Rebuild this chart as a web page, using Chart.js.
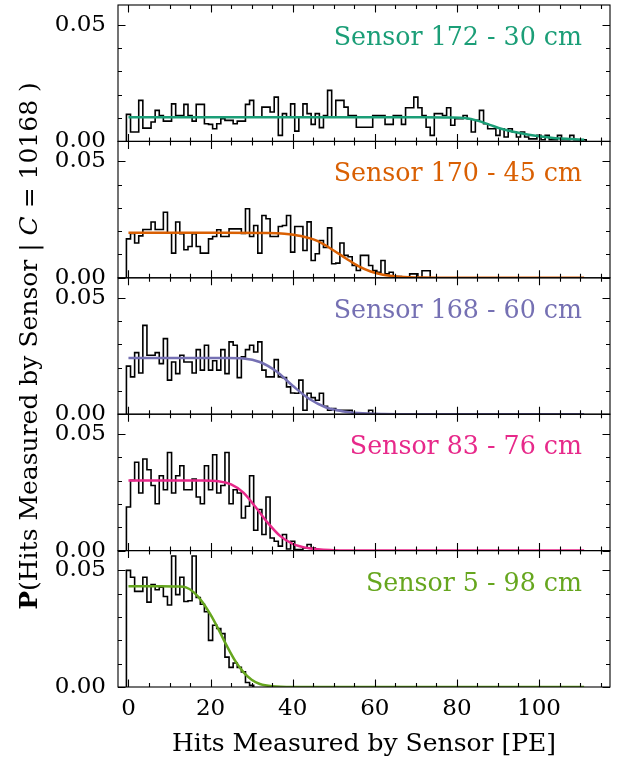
<!DOCTYPE html>
<html>
<head>
<meta charset="utf-8">
<script src="https://cdn.jsdelivr.net/npm/chart.js@4.4.1/dist/chart.umd.min.js"></script>
<style>
  html, body { margin: 0; padding: 0; background: #fff; }
  #wrap { position: relative; width: 630px; height: 760px; }
</style>
</head>
<body>
<div id="wrap"><canvas id="chart" width="630" height="760"></canvas></div>
<script>
// Axis ticks
const xTicks = [0, 20, 40, 60, 80, 100];
const yTicks = [0, 0.05];

// Panel labels and colours (top to bottom)
const sensorLabels = ['Sensor 172 - 30 cm', 'Sensor 170 - 45 cm', 'Sensor 168 - 60 cm', 'Sensor 83 - 76 cm', 'Sensor 5 - 98 cm'];
const sensorColors = ['#1b9e77', '#d95f02', '#7570b3', '#e7298a', '#66a61e'];

// Histogram bins: one bin per PE, first bin centred on 0
const binWidth = 1;

// Measured probability per bin
const hits172 = [
  0.0116, 0.004, 0.004, 0.0176, 0.0057, 0.0057, 0.0083, 0.0133, 0.0111, 0.0087,
  0.0087, 0.0161, 0.0111, 0.0111, 0.0159, 0.0111, 0.0087, 0.0159, 0.0159, 0.0076,
  0.0073, 0.0054, 0.0076, 0.0097, 0.009, 0.009, 0.0076, 0.0087, 0.0087, 0.0159,
  0.0176, 0.0104, 0.0104, 0.0147, 0.0147, 0.0126, 0.019, 0.0026, 0.0119, 0.0104,
  0.0161, 0.0044, 0.0104, 0.0161, 0.0119, 0.0073, 0.0119, 0.0059, 0.0111, 0.0219,
  0.0104, 0.0176, 0.0176, 0.0147, 0.0111, 0.0111, 0.0061, 0.0061, 0.0061, 0.0061,
  0.0111, 0.0111, 0.0111, 0.0073, 0.0073, 0.0111, 0.0111, 0.0073, 0.0144, 0.0144,
  0.019, 0.0144, 0.0111, 0.0061, 0.0026, 0.0119, 0.0119, 0.0111, 0.0144, 0.0069,
  0.0097, 0.0097, 0.0111, 0.0097, 0.004, 0.009, 0.0133, 0.0076, 0.0054, 0.0054,
  0.0026, 0.0054, 0.0019, 0.0054, 0.004, 0.0019, 0.004, 0.0019, 0.0011, 0.0011,
  0.0026, 0.0007, 0.0026, 0.0007, 0.0007, 0.0026, 0.0007, 0.0007, 0.0026, 0.0007,
  0.0007, 0.0007
];
const hits170 = [
  0.0167, 0.019, 0.0149, 0.018, 0.0207, 0.0207, 0.0239, 0.0207, 0.0207, 0.0281,
  0.0191, 0.0106, 0.0239, 0.0189, 0.012, 0.0134, 0.0189, 0.0134, 0.0106, 0.0106,
  0.0167, 0.0177, 0.0206, 0.0177, 0.0177, 0.021, 0.021, 0.021, 0.019, 0.0296,
  0.0177, 0.0224, 0.0106, 0.0267, 0.0253, 0.0177, 0.0177, 0.022, 0.0224, 0.0267,
  0.011, 0.022, 0.022, 0.0117, 0.024, 0.0074, 0.0103, 0.016, 0.013, 0.0214,
  0.006, 0.0063, 0.0149, 0.0096, 0.009, 0.0053, 0.0031, 0.0096, 0.0096, 0.0053,
  0.0031, 0.0024, 0.0074, 0.0017, 0.0024, 0.0005, 0.0005, 0, 0, 0.0017,
  0.0017, 0, 0.003, 0.003
];
const hits168 = [
  0.0206, 0.016, 0.0264, 0.0177, 0.0381, 0.0253, 0.0253, 0.0264, 0.0217, 0.0324,
  0.0146, 0.0224, 0.0174, 0.0253, 0.0224, 0.0224, 0.0177, 0.0277, 0.0189, 0.0296,
  0.0189, 0.0229, 0.0189, 0.0277, 0.0174, 0.031, 0.0296, 0.0157, 0.0246, 0.0277,
  0.0296, 0.0267, 0.031, 0.0189, 0.016, 0.016, 0.0234, 0.016, 0.0157, 0.0117,
  0.0091, 0.009, 0.0146, 0.0017, 0.009, 0.0071, 0.006, 0.009, 0.0034, 0.0017,
  0.0024, 0.0017, 0.0017, 0.0017, 0.0017, 0, 0, 0, 0, 0.0017
];
const hits83 = [
  0.0187, 0.0301, 0.0379, 0.0247, 0.0393, 0.0347, 0.0279, 0.0201, 0.0321, 0.0261,
  0.0421, 0.0247, 0.0321, 0.0364, 0.0261, 0.0261, 0.0307, 0.023, 0.0201, 0.0364,
  0.0261, 0.0411, 0.0247, 0.0279, 0.0421, 0.0201, 0.0261, 0.0247, 0.014, 0.019,
  0.0321, 0.0087, 0.0176, 0.0069, 0.023, 0.0054, 0.004, 0.0019, 0.0069, 0.0007,
  0.004, 0.0004, 0.0004, 0.0011, 0.0026, 0.0011
];
const hits5 = [
  0.05, 0.0471, 0.041, 0.041, 0.0471, 0.0364, 0.0439, 0.0417, 0.0428, 0.0388,
  0.0352, 0.0562, 0.0396, 0.0471, 0.0367, 0.037, 0.0562, 0.0384, 0.0355, 0.0323,
  0.02, 0.0265, 0.0251, 0.0229, 0.0128, 0.0084, 0.0103, 0.0084, 0.0065, 0.0019,
  0.0007
];

// Fitted curves
const fitX172 = [0, 20, 40, 60, 72, 78, 82, 85, 88, 91, 95, 100, 104, 108, 111];
const fitY172 = [0.0104, 0.0104, 0.0104, 0.0104, 0.0104, 0.0103, 0.0100, 0.0089, 0.0071, 0.0053, 0.0037, 0.0022, 0.0014, 0.0010, 0.0007];
const fitX170 = [0, 20, 34, 38, 42, 46, 50, 53, 56, 59, 62, 66, 72, 80, 111];
const fitY170 = [0.0193, 0.0193, 0.0192, 0.0189, 0.0179, 0.0158, 0.0117, 0.0083, 0.0050, 0.0027, 0.0013, 0.0005, 0.0001, 0, 0];
const fitX168 = [0, 20, 24, 28, 32, 36, 40, 44, 48, 52, 56, 62, 70, 111];
const fitY168 = [0.0241, 0.0241, 0.0241, 0.0239, 0.0224, 0.0184, 0.0122, 0.0066, 0.0030, 0.0013, 0.0005, 0.0001, 0, 0];
const fitX83 = [0, 12, 18, 22, 25, 28, 31, 34, 37, 40, 44, 50, 58, 111];
const fitY83 = [0.0301, 0.0301, 0.0301, 0.0297, 0.0284, 0.0249, 0.0186, 0.0118, 0.0062, 0.0029, 0.0010, 0.0002, 0, 0];
const fitX5 = [0, 8, 12, 14, 16, 18, 20, 22, 24, 26, 28, 30, 32, 35, 40, 111];
const fitY5 = [0.0432, 0.0432, 0.0431, 0.0427, 0.0405, 0.0365, 0.0310, 0.0245, 0.0175, 0.0112, 0.0064, 0.0031, 0.0013, 0.0003, 0, 0];

const hitSets = [hits172, hits170, hits168, hits83, hits5];
const fitSets = [[fitX172, fitY172], [fitX170, fitY170], [fitX168, fitY168], [fitX83, fitY83], [fitX5, fitY5]];

const FONT = "'DejaVu Serif', serif";
const yMax = 0.0585;

// Step outline for a histogram: rise at the first edge, drop at the last
function histPoints(vals) {
  const pts = [{ x: -binWidth / 2, y: 0 }];
  vals.forEach((v, i) => pts.push({ x: i * binWidth - binWidth / 2, y: v }));
  pts.push({ x: vals.length * binWidth - binWidth / 2, y: 0 });
  return pts;
}

const datasets = [];
const scales = {
  x: {
    type: 'linear',
    position: 'bottom',
    min: -2.55,
    max: 117.3,
    grid: { display: false, drawTicks: false },
    border: { display: false },
    ticks: { font: { family: FONT, size: 23 }, color: '#000', padding: 8, maxRotation: 0 },
    afterBuildTicks: s => { s.ticks = xTicks.map(v => ({ value: v })); },
    afterFit: s => { s.height = 73; s.paddingLeft = 0; s.paddingRight = 0; },
    title: {
      display: true,
      text: 'Hits Measured by Sensor [PE]',
      font: { family: FONT, size: 25 },
      color: '#000',
      padding: { top: 0, bottom: 1 }
    }
  }
};

hitSets.forEach((vals, i) => {
  const id = 'y' + i;
  scales[id] = {
    type: 'linear',
    position: 'left',
    stack: 'panels',
    stackWeight: 1,
    weight: 5 - i,
    min: 0,
    max: yMax,
    grid: { display: false, drawTicks: false },
    border: { display: false },
    ticks: {
      font: { family: FONT, size: 23 },
      color: '#000',
      padding: 12,
      callback: v => v.toFixed(2)
    },
    afterBuildTicks: s => { s.ticks = yTicks.map(v => ({ value: v })); },
    afterFit: s => { s.width = 118; s.paddingTop = 0; s.paddingBottom = 0; }
  };
  const [fx, fy] = fitSets[i];
  datasets.push({
    label: sensorLabels[i] + ' fit',
    data: fx.map((x, k) => ({ x: x, y: fy[k] })),
    yAxisID: id,
    borderColor: sensorColors[i],
    borderWidth: 2.5,
    pointRadius: 0,
    cubicInterpolationMode: 'monotone',
    fill: false,
    order: 0
  });
  datasets.push({
    label: sensorLabels[i],
    data: histPoints(vals),
    yAxisID: id,
    borderColor: '#000',
    borderWidth: 1.6,
    pointRadius: 0,
    stepped: 'before',
    fill: false,
    order: 1
  });
});

// Panel frames, inward ticks, panel captions and the y label
const framePlugin = {
  id: 'frames',
  afterDraw(chart) {
    const ctx = chart.ctx;
    const area = chart.chartArea;
    const xs = chart.scales.x;
    ctx.save();
    ctx.strokeStyle = '#000';
    ctx.lineWidth = 1.1;
    for (let i = 0; i < 5; i++) {
      const ys = chart.scales['y' + i];
      const top = ys.top, bottom = ys.bottom;
      ctx.strokeRect(area.left, top, area.right - area.left, bottom - top);
      ctx.beginPath();
      for (let v = 0; v <= 115; v += 5) {
        const px = Math.round(xs.getPixelForValue(v)) + 0.5;
        const len = v % 20 === 0 ? 7.5 : 4;
        ctx.moveTo(px, bottom); ctx.lineTo(px, bottom - len);
        ctx.moveTo(px, top); ctx.lineTo(px, top + len);
      }
      for (let k = 0; k <= 5; k++) {
        const v = k * 0.01;
        const py = Math.round(ys.getPixelForValue(v)) + 0.5;
        const len = (k === 0 || k === 5) ? 7.5 : 4;
        ctx.moveTo(area.left, py); ctx.lineTo(area.left + len, py);
        ctx.moveTo(area.right, py); ctx.lineTo(area.right - len, py);
      }
      ctx.stroke();

      ctx.fillStyle = sensorColors[i];
      ctx.font = '25.3px ' + FONT;
      ctx.textAlign = 'right';
      ctx.textBaseline = 'alphabetic';
      ctx.fillText(sensorLabels[i], area.left + 0.943 * (area.right - area.left), top + 40);
    }

    // y label with bold P and italic C
    const parts = [
      { t: 'P', f: 'bold 25px ' + FONT },
      { t: '(Hits Measured by Sensor | ', f: '25px ' + FONT },
      { t: 'C', f: 'italic 25px ' + FONT },
      { t: ' = 10168 )', f: '25px ' + FONT }
    ];
    let total = 0;
    parts.forEach(p => { ctx.font = p.f; p.w = ctx.measureText(p.t).width; total += p.w; });
    const midY = (chart.scales.y2.top + chart.scales.y2.bottom) / 2;
    ctx.translate(30, midY);
    ctx.rotate(-Math.PI / 2);
    ctx.fillStyle = '#000';
    ctx.textAlign = 'left';
    ctx.textBaseline = 'middle';
    let x = -total / 2;
    parts.forEach(p => { ctx.font = p.f; ctx.fillText(p.t, x, 0); x += p.w; });
    ctx.restore();
  }
};

new Chart(document.getElementById('chart'), {
  type: 'line',
  data: { datasets: datasets },
  options: {
    responsive: false,
    animation: false,
    devicePixelRatio: 1,
    layout: { padding: { top: 5, right: 20, bottom: 0, left: 0 } },
    plugins: { legend: { display: false }, tooltip: { enabled: false }, title: { display: false } },
    scales: scales
  },
  plugins: [framePlugin]
});
</script>
</body>
</html>
